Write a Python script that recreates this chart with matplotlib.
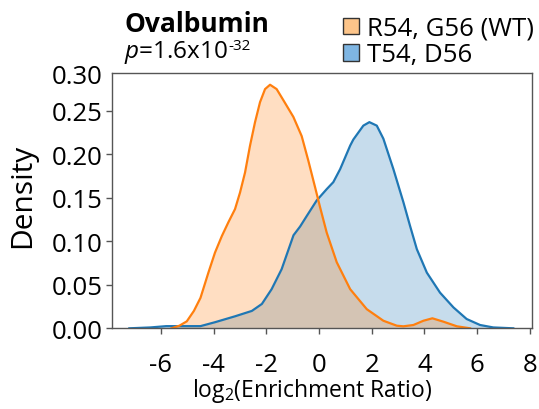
import matplotlib
matplotlib.use("Agg")
import matplotlib.pyplot as plt
from matplotlib.patches import Patch

plt.rcParams['font.family'] = ['Open Sans', 'DejaVu Sans']
plt.rcParams['mathtext.fontset'] = 'custom'
plt.rcParams['mathtext.rm'] = 'Open Sans'
plt.rcParams['mathtext.it'] = 'Open Sans:italic'

# ---- data ----
wt_x = [-5.6, -5.3, -5.02, -4.75, -4.5, -4.2, -3.95, -3.69, -3.44, -3.19, -3.0,
        -2.81, -2.62, -2.43, -2.24, -2.05, -1.86, -1.61, -1.35, -0.975,
        -0.66, -0.41, -0.15, 0.04, 0.29, 0.67, 1.18, 1.81, 2.44, 2.95, 3.2, 3.58, 3.96,
        4.30, 4.72, 5.23, 5.73]
wt_y = [0.0, 0.003, 0.008, 0.020, 0.035, 0.064, 0.087, 0.106, 0.122, 0.137, 0.156,
        0.179, 0.210, 0.237, 0.260, 0.275, 0.280, 0.275, 0.262, 0.243,
        0.221, 0.193, 0.162, 0.139, 0.110, 0.076, 0.045, 0.022, 0.0087, 0.003, 0.0023,
        0.0038, 0.0087, 0.0115, 0.0076, 0.0023, 0.0]

mut_x = [-7.2, -6.4, -5.8, -5.2, -4.5, -3.95, -3.19, -2.55, -2.17, -1.80, -1.42,
         -0.97, -0.72, -0.47, -0.09, 0.29, 0.54, 0.80, 1.18, 1.30, 1.68, 1.91,
         2.19, 2.44, 2.82, 3.2, 3.45, 3.71, 4.09, 4.59, 5.10, 5.60, 6.11, 6.61, 7.37]
mut_y = [0.0, 0.001, 0.0025, 0.0025, 0.0025, 0.007, 0.0138, 0.020, 0.028, 0.045, 0.068,
         0.107, 0.117, 0.129, 0.147, 0.160, 0.168, 0.183, 0.210, 0.217,
         0.233, 0.237, 0.233, 0.218, 0.183, 0.145, 0.118, 0.091, 0.064, 0.041, 0.024,
         0.0107, 0.0038, 0.001, 0.0]

labels = ["R54, G56 (WT)", "T54, D56"]
xticks = [-6, -4, -2, 0, 2, 4, 6, 8]
yticks = [0.00, 0.05, 0.10, 0.15, 0.20, 0.25]
ytop_label = "0.30"

orange = "#ff7f0e"
blue = "#1f77b4"

fig = plt.figure(figsize=(5.39, 4.10), dpi=100)
ax = fig.add_axes([0.2072, 0.1968, 0.7798, 0.6227])

ax.fill_between(mut_x, mut_y, 0, color=blue, alpha=0.25, linewidth=0)
ax.fill_between(wt_x, wt_y, 0, color=orange, alpha=0.25, linewidth=0)
ax.plot(mut_x, mut_y, color=blue, lw=1.6, solid_joinstyle='round')
ax.plot(wt_x, wt_y, color=orange, lw=1.6, solid_joinstyle='round')

ax.set_xlim(-7.87, 8.08)
ytop = 0.2935
ax.set_ylim(0, ytop)
ax.set_xticks(xticks)
ax.set_xticklabels([str(t) for t in xticks])
ax.set_yticks(yticks)
ax.set_yticklabels([f"{t:.2f}" for t in yticks])
ax.set_yticks([ytop], labels=[ytop_label], minor=True)
ax.tick_params(axis='both', which='major', labelsize=18.5, length=4, width=1,
               color='#555555', direction='out')
ax.tick_params(axis='y', which='minor', length=0, pad=6.5, labelsize=18.5)
ax.tick_params(axis='y', which='major', pad=2.5)
ax.tick_params(axis='x', which='major', pad=13)
for s in ax.spines.values():
    s.set_color('#555555')
    s.set_linewidth(1.0)

ax.set_ylabel("Density", fontsize=21.5)
ax.yaxis.set_label_coords((23 - 111.7) / 420.3, (329.3 - 196) / 255.3)
ax.yaxis.label.set_va('center')
ax.set_xlabel("log$_2$(Enrichment Ratio)", fontsize=16.5)
ax.xaxis.set_label_coords((312 - 111.7) / 420.3, -(391 - 329.3) / 255.3)
ax.xaxis.label.set_va('center')

fig.text(125/539, 1 - 24/410, "Ovalbumin", fontsize=19, fontweight='bold',
         ha='left', va='center')
pt = fig.text(124/539, 1 - 58/410, r"$p$=1.6x10", fontsize=17.5,
              ha='left', va='baseline')
ax.annotate("-32", xy=(1, 410 - 50), xycoords=(pt, 'figure pixels'),
            xytext=(0.5, 0), textcoords='offset points',
            fontsize=11, ha='left', va='baseline', annotation_clip=False)

# legend
handles = [Patch(facecolor="#fdc58a", edgecolor="#333333", lw=1),
           Patch(facecolor="#7fb6e3", edgecolor="#333333", lw=1)]
fig.legend(handles, labels, loc='upper left', bbox_to_anchor=(343/539, 1 - 17/410),
           frameon=False, fontsize=18.5, handlelength=0.62, handleheight=0.62,
           handletextpad=0.3, labelspacing=0.05, borderpad=0, borderaxespad=0)

fig.savefig("out.png", dpi=100)
